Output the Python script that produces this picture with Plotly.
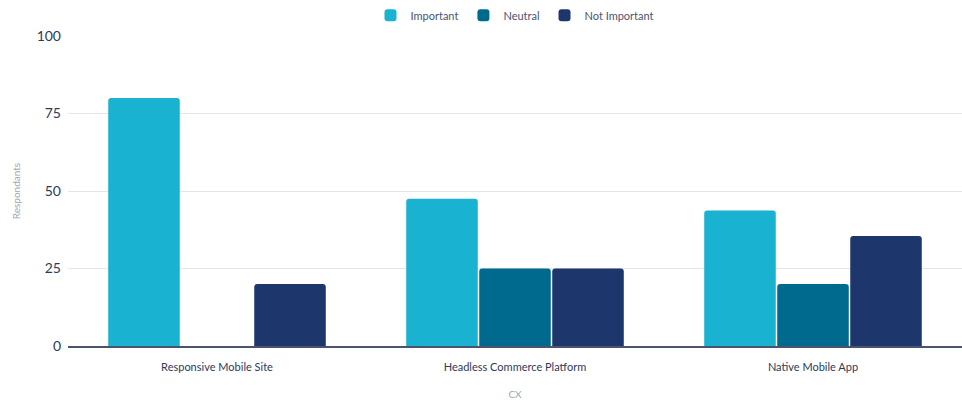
import plotly.graph_objects as go

categories = ["Responsive Mobile Site", "Headless Commerce Platform", "Native Mobile App"]
series_names = ["Important", "Neutral", "Not Important"]
important = [80, 47.5, 43.75]
neutral = [0, 25, 20]
not_important = [20, 25, 35.5]
y_ticks = [0, 25, 50, 75, 100]

colors = ["#19B2D0", "#006A8E", "#1D376C"]
values = [important, neutral, not_important]

fig = go.Figure()
for name, vals, c in zip(series_names, values, colors):
    fig.add_trace(go.Bar(name=name, x=categories, y=vals, marker=dict(color=c, line=dict(width=0))))

fig.update_layout(
    width=962, height=400,
    margin=dict(l=68, r=0, t=36, b=54),
    paper_bgcolor="white", plot_bgcolor="white",
    barmode="group", bargap=0.265, bargroupgap=0.02,
    barcornerradius=3,
    font=dict(family="Lato, Open Sans, sans-serif", color="#2e3a59"),
    showlegend=True,
    legend=dict(orientation="h", x=0.5, xanchor="center", y=1.02, yanchor="bottom",
                font=dict(size=11, color="#4a5470"), itemwidth=30, traceorder="normal"),
    xaxis=dict(
        title=dict(text="CX", font=dict(size=10, color="#a0a6b0"), standoff=22),
        tickfont=dict(size=11, color="#2e3a59"),
        ticklabelstandoff=10,
        showline=True, linecolor="#4a5470", linewidth=2,
        showgrid=False, ticks="", automargin=False,
    ),
    yaxis=dict(
        title=dict(text="Respondants", font=dict(size=10, color="#a0a6b0"), standoff=14),
        range=[0, 100], tickvals=y_ticks,
        tickfont=dict(size=14, color="#2e3a59"),
        ticklabelstandoff=6,
        showgrid=True, gridcolor="#e3e6e8", gridwidth=1,
        zeroline=False, showline=False, ticks="", automargin=False,
    ),
)

fig.write_html("out.html")
